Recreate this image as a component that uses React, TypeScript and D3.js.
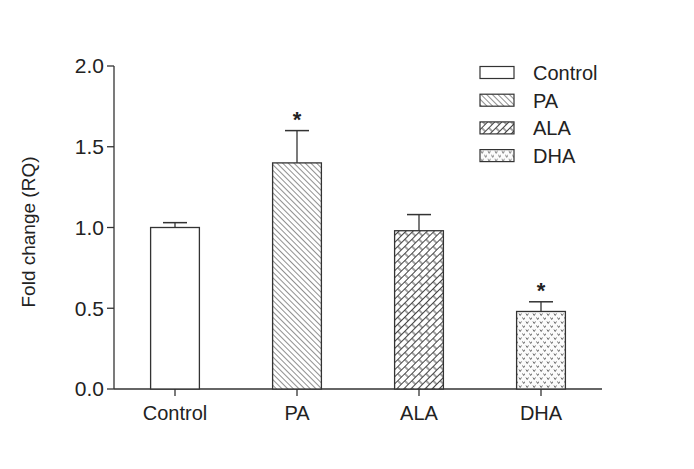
import React from "react";
import * as d3 from "d3";

const categories = ["Control", "PA", "ALA", "DHA"];
const means = [1.0, 1.4, 0.98, 0.48];
const errors = [0.03, 0.2, 0.1, 0.06];
const significant = [false, true, false, true];
const yTicks = [0, 0.5, 1.0, 1.5, 2.0];
const patterns = ["none", "pa", "ala", "dha"];

const W = 694, H = 469;
const x0 = 114, x1 = 602, yTop = 66, yBot = 389;

export default function App() {
  const x = d3.scaleBand<string>().domain(categories).range([x0, x1]).paddingInner(0.6).paddingOuter(0.3);
  const y = d3.scaleLinear().domain([0, 2]).range([yBot, yTop]);
  const bw = x.bandwidth();
  const fill = (p: string) => (p === "none" ? "#fff" : `url(#pat-${p})`);
  const stroke = "#333";
  return (
    <svg width={W} height={H} style={{ position: "absolute", left: 0, top: 0, background: "#fff" }} fontFamily="'Liberation Sans', Arial, sans-serif">
      <defs>
        <pattern id="pat-pa" patternUnits="userSpaceOnUse" width="4" height="4" patternTransform="rotate(-45)">
          <rect width="4" height="4" fill="#fff" />
          <line x1="0" y1="0" x2="0" y2="4" stroke="#333" strokeWidth="1.1" />
        </pattern>
        <pattern id="pat-ala" patternUnits="userSpaceOnUse" width="10" height="10" patternTransform="rotate(-45)">
          <rect width="10" height="10" fill="#fff" />
          <line x1="0" y1="0.5" x2="10" y2="0.5" stroke="#444" strokeWidth="1" />
          <line x1="0" y1="5.5" x2="10" y2="5.5" stroke="#444" strokeWidth="1" />
          <line x1="2" y1="0.5" x2="2" y2="5.5" stroke="#444" strokeWidth="1" />
          <line x1="7" y1="5.5" x2="7" y2="10.5" stroke="#444" strokeWidth="1" />
        </pattern>
        <pattern id="pat-dha" patternUnits="userSpaceOnUse" width="7" height="8">
          <rect width="7" height="8" fill="#fbfbfb" />
          <path d="M1,1.5 L2.2,3.5 L3.4,1.5" fill="none" stroke="#666" strokeWidth="1" />
          <path d="M4.5,5.5 L5.7,7.5 L6.9,5.5" fill="none" stroke="#666" strokeWidth="1" />
        </pattern>
      </defs>
      {/* y axis */}
      <line x1={x0} x2={x0} y1={yTop} y2={yBot} stroke={stroke} strokeWidth={1.3} />
      {yTicks.map((t) => (
        <g key={t}>
          <line x1={x0 - 7} x2={x0} y1={y(t)} y2={y(t)} stroke={stroke} strokeWidth={1.3} />
          <text x={x0 - 10} y={y(t)} dy="0.35em" textAnchor="end" fontSize={21} fill="#222">
            {t.toFixed(1)}
          </text>
        </g>
      ))}
      <text transform={`translate(35,${232}) rotate(-90)`} textAnchor="middle" fontSize={19} fill="#222">
        Fold change (RQ)
      </text>
      {/* x axis */}
      <line x1={x0} x2={x1} y1={yBot} y2={yBot} stroke={stroke} strokeWidth={1.3} />
      {categories.map((c, i) => {
        const cx = (x(c) ?? 0) + bw / 2;
        return (
          <g key={c}>
            <line x1={cx} x2={cx} y1={yBot} y2={yBot + 7} stroke={stroke} strokeWidth={1.3} />
            <text x={cx} y={yBot + 31} textAnchor="middle" fontSize={20} fill="#222">{c}</text>
            <line x1={cx} x2={cx} y1={y(means[i])} y2={y(means[i] + errors[i])} stroke={stroke} strokeWidth={1.3} />
            <line x1={cx - 12} x2={cx + 12} y1={y(means[i] + errors[i])} y2={y(means[i] + errors[i])} stroke={stroke} strokeWidth={1.5} />
            <rect x={x(c)} y={y(means[i])} width={bw} height={yBot - y(means[i])} fill={fill(patterns[i])} stroke={stroke} strokeWidth={1.3} />
            {significant[i] && (
              <text x={cx} y={y(means[i] + errors[i]) - 4} textAnchor="middle" fontSize={22} fontWeight="bold" fill="#222">*</text>
            )}
          </g>
        );
      })}
      {/* legend */}
      {categories.map((c, i) => (
        <g key={"lg" + c} transform={`translate(480,${66.5 + i * 27.7})`}>
          <rect x={0} y={0} width={34} height={12} fill={fill(patterns[i])} stroke={stroke} strokeWidth={1.2} />
          <text x={53} y={13.5} fontSize={20} fill="#222">{c}</text>
        </g>
      ))}
    </svg>
  );
}
